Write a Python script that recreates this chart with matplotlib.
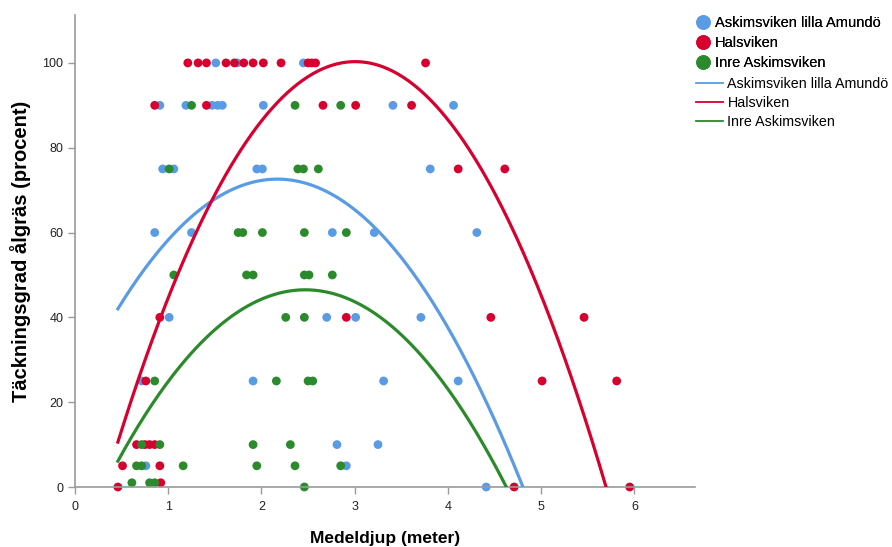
import matplotlib
matplotlib.use("Agg")
import matplotlib.pyplot as plt
import numpy as np
from matplotlib.lines import Line2D

plt.rcParams['font.family'] = ['Liberation Sans', 'DejaVu Sans']

# grupper och färger
groups = ['Askimsviken lilla Amundö', 'Halsviken', 'Inre Askimsviken']
colors = ['#5A9BE6', '#D7002F', '#2B8A2B']

# Askimsviken lilla Amundö
askim_x = [1.51, 1.74, 2.45,
           0.91, 1.19, 1.47, 1.53, 1.58, 2.02, 3.41, 4.06,
           0.94, 1.06, 1.95, 2.01, 3.81,
           0.855, 1.25, 2.76, 3.21, 4.31,
           1.01, 2.70, 3.01, 3.71,
           0.715, 1.91, 3.31, 4.11,
           2.81, 3.25,
           0.76, 2.91,
           4.41]
askim_y = [100, 100, 100,
           90, 90, 90, 90, 90, 90, 90, 90,
           75, 75, 75, 75, 75,
           60, 60, 60, 60, 60,
           40, 40, 40, 40,
           25, 25, 25, 25,
           10, 10,
           5, 5,
           0]

# Halsviken
hals_x = [1.21, 1.32, 1.41, 1.62, 1.71, 1.81, 1.91, 2.02, 2.21, 2.50, 2.54, 2.58, 3.76,
          0.855, 1.41, 2.66, 3.01, 3.61,
          4.11, 4.61,
          0.91, 2.91, 4.46, 5.46,
          0.76, 5.01, 5.81,
          0.66, 0.75, 0.80, 0.855,
          0.51, 0.91,
          0.92,
          0.46, 4.71, 5.95]
hals_y = [100] * 13 + [90] * 5 + [75] * 2 + [40] * 4 + [25] * 3 + [10] * 4 + [5] * 2 + [1] + [0] * 3

# Inre Askimsviken
inre_x = [1.25, 2.36, 2.85,
          1.01, 2.39, 2.45, 2.61,
          1.75, 1.80, 2.01, 2.46, 2.91,
          1.06, 1.84, 1.91, 2.46, 2.51, 2.76,
          2.26, 2.46,
          0.855, 2.16, 2.50, 2.55,
          0.715, 0.91, 1.91, 2.31,
          0.66, 0.715, 1.16, 1.95, 2.36, 2.85,
          0.61, 0.80, 0.855,
          2.46]
inre_y = [90] * 3 + [75] * 4 + [60] * 5 + [50] * 6 + [40] * 2 + [25] * 4 + [10] * 4 + [5] * 6 + [1] * 3 + [0]

# kvadratisk anpassning (toppunkt x, toppunkt y, krökning)
fit_xv = [2.17, 3.005, 2.47]
fit_yv = [72.6, 100.3, 46.5]
fit_a = [-10.46, -13.85, -10.0]

xs_all = [askim_x, hals_x, inre_x]
ys_all = [askim_y, hals_y, inre_y]

fig = plt.figure(figsize=(8.92, 5.47), dpi=100)
ax = fig.add_axes([75 / 892, 60 / 547, 620 / 892, 472 / 547])

for xs, ys, c in zip(xs_all, ys_all, colors):
    ax.scatter(xs, ys, s=40, color=c, edgecolors='none', zorder=2, clip_on=False)

xmin = min(min(v) for v in xs_all)
xmax = max(max(v) for v in xs_all)
xx = np.linspace(xmin, xmax, 300)
for xv, yv, a, c in zip(fit_xv, fit_yv, fit_a, colors):
    ax.plot(xx, yv + a * (xx - xv) ** 2, color=c, lw=2.3, zorder=3)

ax.set_xlim(0, 6.65)
ax.set_ylim(0, 111.3)
ax.set_xticks(range(0, 7))
ax.set_yticks(range(0, 101, 20))
for s in ['top', 'right']:
    ax.spines[s].set_visible(False)
for s in ['left', 'bottom']:
    ax.spines[s].set_color('#9a9a9a')
    ax.spines[s].set_linewidth(1.2)
ax.tick_params(colors='#9a9a9a', labelcolor='#222222', labelsize=9, length=5, width=1)
ax.tick_params(axis='x', pad=5)

ax.set_xlabel('Medeldjup (meter)', fontsize=12.5, fontweight='bold', labelpad=13)
ax.set_ylabel('Täckningsgrad ålgräs (procent)', fontsize=14.5, fontweight='bold', labelpad=8)

pt_handles = [Line2D([], [], ls='none', marker='o', ms=9.5, color=c) for c in colors]
leg1 = fig.legend(pt_handles, groups, loc='upper left', bbox_to_anchor=(696 / 892, 1 - 16 / 547),
                  frameon=False, fontsize=10.5, handlelength=1.0, handletextpad=0.3,
                  labelspacing=0.42, borderpad=0, borderaxespad=0)
ln_handles = [Line2D([], [], color=c, lw=1.3) for c in colors]
leg2 = fig.legend(ln_handles, groups, loc='upper left', bbox_to_anchor=(696 / 892, 1 - 77 / 547),
                  frameon=False, fontsize=10.3, handlelength=1.9, handletextpad=0.3,
                  labelspacing=0.34, borderpad=0, borderaxespad=0)
fig.add_artist(leg1)

fig.savefig('out.png', dpi=100)
